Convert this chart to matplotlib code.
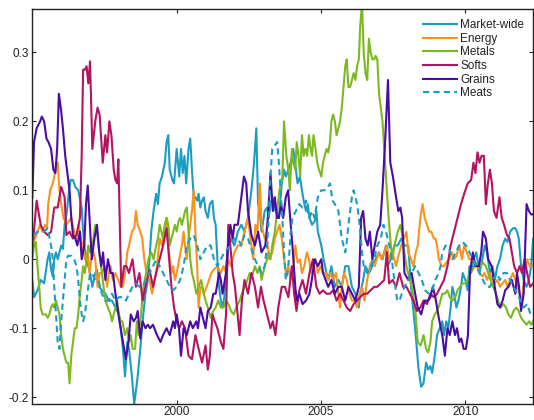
import matplotlib
matplotlib.use("Agg")
import matplotlib.pyplot as plt

plt.rcParams['font.family'] = ['Liberation Sans', 'DejaVu Sans']

# ---------------- data (decimal years, correlation values) ----------------
mkt_t = [1995.00,1995.06,1995.18,1995.29,1995.41,1995.53,1995.59,1995.65,1995.71,1995.76,1995.82,1995.88,1995.94,1996.00,1996.06,1996.12,1996.20,1996.27,1996.33,1996.41,1996.49,1996.59,1996.71,1996.76,1996.85,1996.94,1997.00,1997.08,1997.18,1997.24,1997.32,1997.41,1997.53,1997.65,1997.76,1997.88,1998.00,1998.06,1998.14,1998.21,1998.29,1998.35,1998.45,1998.53,1998.59,1998.65,1998.74,1998.82,1998.92,1999.00,1999.06,1999.12,1999.20,1999.29,1999.35,1999.41,1999.49,1999.59,1999.65,1999.71,1999.76,1999.85,1999.91,2000.00,2000.09,2000.15,2000.21,2000.27,2000.33,2000.41,2000.47,2000.53,2000.59,2000.65,2000.71,2000.76,2000.82,2000.88,2000.94,2001.00,2001.08,2001.15,2001.24,2001.29,2001.35,2001.41,2001.47,2001.53,2001.59,2001.65,2001.71,2001.76,2001.88,2002.00,2002.12,2002.24,2002.35,2002.47,2002.59,2002.68,2002.76,2002.82,2002.88,2002.94,2003.05,2003.13,2003.19,2003.25,2003.31,2003.42,2003.54,2003.64,2003.72,2003.78,2003.87,2003.95,2004.04,2004.13,2004.19,2004.27,2004.34,2004.40,2004.48,2004.54,2004.60,2004.69,2004.78,2004.84,2004.89,2005.01,2005.09,2005.19,2005.25,2005.36,2005.48,2005.60,2005.72,2005.84,2005.95,2006.07,2006.19,2006.31,2006.36,2006.46,2006.54,2006.66,2006.78,2006.89,2007.01,2007.13,2007.25,2007.31,2007.42,2007.54,2007.66,2007.78,2007.89,2008.02,2008.14,2008.26,2008.38,2008.47,2008.55,2008.64,2008.71,2008.79,2008.85,2008.94,2009.02,2009.11,2009.20,2009.26,2009.34,2009.41,2009.49,2009.55,2009.61,2009.69,2009.76,2009.85,2009.91,2010.00,2010.08,2010.14,2010.20,2010.28,2010.38,2010.49,2010.59,2010.67,2010.75,2010.85,2010.94,2011.02,2011.11,2011.20,2011.29,2011.38,2011.46,2011.55,2011.65,2011.73,2011.79,2011.85,2011.93,2012.02,2012.12,2012.20,2012.28,2012.35]
mkt_v = [-.03,-.055,-.045,-.03,-.035,.0,.01,-.015,-.025,.0,.01,.0,.01,.02,.015,.05,.07,.1,.115,.115,.105,.1,.075,.04,.0,-.01,-.02,-.04,-.02,-.015,-.04,-.045,-.05,-.06,-.06,-.07,-.08,-.1,-.13,-.17,-.12,-.13,-.17,-.21,-.19,-.17,-.13,-.09,-.05,-.03,.0,.04,.07,.095,.08,.11,.12,.14,.17,.18,.13,.115,.11,.16,.12,.16,.125,.15,.11,.16,.175,.13,.09,.09,.085,.095,.075,.085,.09,.07,.06,.08,.085,.06,.05,.0,-.04,-.06,-.07,-.055,-.02,.01,.03,.02,.04,.05,.04,.06,.1,.14,.19,.08,.07,.04,.07,.075,.06,.08,.09,.07,.06,.11,.13,.12,.13,.14,.16,.13,.11,.12,.1,.085,.07,.08,.06,.05,.055,.07,.04,.02,.0,-.02,-.03,-.01,-.04,-.03,-.04,-.01,-.01,-.04,-.05,-.07,-.05,-.03,-.01,-.02,-.01,.0,.01,.0,.02,-.01,.0,.02,.02,.03,.02,.02,-.05,-.1,-.16,-.185,-.18,-.15,-.16,-.155,-.165,-.14,-.11,-.1,-.09,-.11,-.09,-.1,-.07,-.04,-.05,-.07,-.06,-.04,-.02,-.03,-.045,-.01,-.02,.0,.01,-.02,.0,.02,.01,-.02,-.01,-.03,-.01,.0,.02,.03,.025,.04,.045,.045,.04,.03,-.01,-.03,-.04,-.03,-.01,.03]

nrg_t = [1995.00,1995.09,1995.18,1995.27,1995.35,1995.44,1995.51,1995.55,1995.62,1995.71,1995.76,1995.82,1995.88,1995.94,1996.00,1996.08,1996.18,1996.26,1996.35,1996.45,1996.53,1996.61,1996.68,1996.74,1996.82,1996.92,1996.98,1997.04,1997.12,1997.18,1997.26,1997.33,1997.41,1997.51,1997.59,1997.65,1997.71,1997.79,1997.88,1997.98,1998.06,1998.14,1998.21,1998.29,1998.35,1998.45,1998.53,1998.59,1998.65,1998.74,1998.81,1998.88,1998.96,1999.06,1999.15,1999.24,1999.32,1999.41,1999.49,1999.55,1999.65,1999.71,1999.76,1999.82,1999.88,1999.94,2000.00,2000.09,2000.18,2000.24,2000.29,2000.35,2000.41,2000.47,2000.53,2000.59,2000.65,2000.71,2000.76,2000.82,2000.88,2000.94,2001.04,2001.12,2001.20,2001.29,2001.41,2001.53,2001.62,2001.71,2001.79,2001.88,2002.00,2002.12,2002.24,2002.35,2002.47,2002.56,2002.65,2002.73,2002.80,2002.88,2002.94,2003.05,2003.13,2003.21,2003.31,2003.40,2003.48,2003.56,2003.64,2003.72,2003.78,2003.87,2003.95,2004.04,2004.11,2004.19,2004.27,2004.34,2004.42,2004.51,2004.58,2004.66,2004.72,2004.81,2004.89,2004.98,2005.07,2005.16,2005.25,2005.33,2005.42,2005.52,2005.60,2005.66,2005.72,2005.80,2005.89,2005.99,2006.07,2006.15,2006.25,2006.34,2006.42,2006.51,2006.60,2006.69,2006.78,2006.86,2006.93,2007.01,2007.09,2007.19,2007.28,2007.36,2007.45,2007.54,2007.60,2007.68,2007.78,2007.87,2007.96,2008.02,2008.12,2008.20,2008.28,2008.35,2008.44,2008.52,2008.59,2008.67,2008.75,2008.82,2008.91,2008.96,2009.02,2009.08,2009.18,2009.26,2009.34,2009.44,2009.53,2009.61,2009.69,2009.79,2009.88,2009.96,2010.05,2010.14,2010.24,2010.32,2010.40,2010.49,2010.59,2010.67,2010.75,2010.85,2010.94,2011.02,2011.11,2011.20,2011.29,2011.38,2011.46,2011.55,2011.65,2011.73,2011.81,2011.88,2011.96,2012.05,2012.14,2012.24,2012.35]
nrg_v = [.02,.03,.04,.05,.04,.05,.045,.08,.1,.11,.12,.135,.14,.1,.08,.06,.05,.055,.06,.04,.03,.05,.03,.02,.0,.01,-.02,.0,.01,.0,-.04,-.02,-.02,-.01,-.04,-.02,-.01,-.03,-.02,-.03,-.04,-.04,-.02,.01,.02,.04,.045,.07,.05,.04,.03,.0,-.02,-.03,-.05,-.03,-.01,.03,.02,.04,.06,.02,.0,-.02,-.01,-.03,-.02,.0,.02,.04,.02,.0,.03,.05,.07,.1,.04,-.01,-.07,-.04,-.04,-.05,-.04,-.03,-.02,-.015,-.01,-.02,-.01,-.02,.0,-.01,.01,.02,.02,.04,.06,.03,.0,.05,.04,.11,.05,.03,.03,.0,.01,.03,.04,.05,.03,.0,-.02,-.01,-.03,-.01,.02,-.005,.0,-.02,-.01,.01,.0,-.02,-.01,.0,-.02,-.01,-.02,-.02,-.03,-.02,-.03,-.02,-.05,-.07,-.04,-.02,-.03,-.05,-.06,-.06,-.07,-.05,-.04,-.06,-.03,-.01,.0,-.01,.0,.01,.0,.01,.02,.0,.01,.0,-.01,.005,.02,.03,.04,.01,.0,-.01,.01,.02,.06,.08,.06,.05,.04,.04,.03,.03,.02,.0,-.01,-.01,-.005,.0,.01,.0,.005,.02,.0,.02,.01,.0,.0,-.01,-.01,-.02,-.025,-.02,-.03,-.02,-.03,-.035,-.03,-.04,-.035,-.03,-.04,-.03,-.02,-.03,-.04,-.05,-.06,-.02,.0,-.01,-.01]

met_t = [1995.00,1995.06,1995.12,1995.18,1995.24,1995.29,1995.35,1995.41,1995.47,1995.53,1995.59,1995.65,1995.71,1995.76,1995.82,1995.88,1995.94,1996.00,1996.06,1996.12,1996.18,1996.24,1996.29,1996.35,1996.41,1996.47,1996.53,1996.59,1996.65,1996.71,1996.76,1996.82,1996.88,1996.94,1997.00,1997.06,1997.12,1997.18,1997.24,1997.29,1997.35,1997.41,1997.47,1997.53,1997.62,1997.71,1997.76,1997.82,1997.88,1997.94,1998.00,1998.06,1998.12,1998.21,1998.29,1998.35,1998.41,1998.47,1998.56,1998.62,1998.68,1998.74,1998.81,1998.85,1998.94,1999.02,1999.12,1999.20,1999.29,1999.35,1999.41,1999.47,1999.53,1999.59,1999.65,1999.71,1999.76,1999.82,1999.88,1999.94,2000.00,2000.06,2000.12,2000.18,2000.24,2000.29,2000.35,2000.41,2000.47,2000.53,2000.59,2000.68,2000.76,2000.85,2000.94,2001.00,2001.08,2001.18,2001.27,2001.35,2001.44,2001.53,2001.62,2001.71,2001.79,2001.88,2001.98,2002.06,2002.12,2002.18,2002.26,2002.35,2002.45,2002.53,2002.61,2002.71,2002.80,2002.88,2002.94,2003.05,2003.13,2003.19,2003.25,2003.31,2003.40,2003.48,2003.56,2003.66,2003.72,2003.80,2003.87,2003.92,2003.99,2004.04,2004.11,2004.16,2004.22,2004.28,2004.34,2004.40,2004.46,2004.52,2004.58,2004.64,2004.69,2004.74,2004.81,2004.87,2004.93,2005.01,2005.07,2005.13,2005.19,2005.25,2005.31,2005.36,2005.42,2005.48,2005.54,2005.60,2005.66,2005.72,2005.78,2005.84,2005.89,2005.95,2006.01,2006.07,2006.13,2006.19,2006.25,2006.31,2006.36,2006.42,2006.48,2006.54,2006.60,2006.66,2006.72,2006.78,2006.84,2006.89,2006.95,2007.01,2007.07,2007.13,2007.19,2007.25,2007.31,2007.36,2007.42,2007.48,2007.54,2007.60,2007.66,2007.75,2007.84,2007.89,2007.96,2008.02,2008.14,2008.26,2008.35,2008.44,2008.49,2008.55,2008.64,2008.71,2008.79,2008.85,2008.94,2009.02,2009.11,2009.20,2009.29,2009.38,2009.46,2009.55,2009.65,2009.73,2009.81,2009.91,2010.00,2010.08,2010.16,2010.26,2010.35,2010.44,2010.52,2010.61,2010.71,2010.79,2010.87,2010.96,2011.06,2011.14,2011.22,2011.32,2011.41,2011.49,2011.58,2011.67,2011.76,2011.85,2011.93,2012.02,2012.12,2012.21,2012.28,2012.35]
met_v = [.0,.02,.025,-.01,-.04,-.07,-.08,-.08,-.08,-.085,-.08,-.07,-.065,-.07,-.06,-.07,-.08,-.11,-.13,-.14,-.15,-.15,-.18,-.14,-.12,-.1,-.1,-.08,-.05,-.03,-.01,-.02,.0,.02,.01,.02,.03,.05,.04,.02,.0,-.02,-.04,-.06,-.07,-.08,-.09,-.08,-.07,-.06,-.08,-.09,-.09,-.11,-.1,-.12,-.11,-.13,-.13,-.09,-.11,-.09,-.06,-.04,-.02,.0,.01,.0,.02,.03,.05,.04,.03,.05,.06,.05,.02,.03,.04,.05,.04,.055,.06,.05,.06,.07,.075,.04,.0,-.02,-.03,-.05,-.04,-.03,-.05,-.06,-.07,-.085,-.075,-.07,-.06,-.07,-.07,-.06,-.065,-.075,-.08,-.07,-.065,-.06,-.05,-.04,-.03,-.02,-.025,-.01,-.02,-.01,-.03,-.01,.0,.01,.0,.02,.04,.07,.1,.12,.2,.15,.13,.1,.16,.14,.13,.17,.15,.12,.18,.15,.16,.15,.18,.16,.15,.18,.16,.14,.13,.12,.14,.15,.16,.155,.17,.2,.21,.2,.18,.19,.2,.22,.25,.28,.29,.25,.25,.26,.27,.26,.28,.29,.34,.37,.3,.27,.26,.32,.3,.29,.29,.295,.29,.24,.22,.2,.16,.12,.08,.05,.02,.0,.02,.03,.04,.05,.03,.01,-.01,-.02,-.04,-.07,-.12,-.125,-.12,-.11,-.13,-.135,-.12,-.09,-.08,-.075,-.065,-.05,-.05,-.045,-.055,-.06,-.055,-.045,-.04,-.035,-.035,-.03,-.02,-.015,-.005,-.01,-.01,-.005,-.01,-.02,-.03,-.04,-.05,-.06,-.07,-.065,-.07,-.08,-.085,-.075,-.07,-.075,-.085,-.09,-.095,-.09,-.095,-.09]

sft_t = [1995.00,1995.15,1995.29,1995.41,1995.53,1995.65,1995.76,1995.88,1996.00,1996.12,1996.18,1996.29,1996.41,1996.53,1996.65,1996.71,1996.76,1996.82,1996.88,1996.94,1997.00,1997.08,1997.18,1997.26,1997.33,1997.44,1997.53,1997.59,1997.67,1997.74,1997.82,1997.88,1997.94,1997.98,1998.04,1998.08,1998.18,1998.26,1998.35,1998.47,1998.59,1998.71,1998.82,1998.94,1999.06,1999.18,1999.29,1999.41,1999.53,1999.65,1999.74,1999.82,1999.91,2000.00,2000.09,2000.18,2000.29,2000.41,2000.53,2000.65,2000.76,2000.88,2001.00,2001.08,2001.15,2001.24,2001.32,2001.41,2001.53,2001.62,2001.71,2001.79,2001.86,2001.94,2002.02,2002.09,2002.18,2002.26,2002.35,2002.47,2002.59,2002.71,2002.82,2002.92,2003.01,2003.13,2003.25,2003.33,2003.42,2003.52,2003.64,2003.75,2003.87,2003.99,2004.07,2004.15,2004.25,2004.36,2004.48,2004.60,2004.72,2004.84,2004.95,2005.07,2005.19,2005.31,2005.42,2005.54,2005.66,2005.78,2005.89,2006.01,2006.13,2006.25,2006.36,2006.48,2006.60,2006.72,2006.84,2006.95,2007.07,2007.19,2007.28,2007.36,2007.48,2007.60,2007.72,2007.84,2007.96,2008.08,2008.20,2008.32,2008.44,2008.55,2008.67,2008.79,2008.91,2009.02,2009.14,2009.26,2009.38,2009.49,2009.61,2009.73,2009.85,2009.96,2010.08,2010.20,2010.28,2010.35,2010.42,2010.49,2010.56,2010.64,2010.71,2010.78,2010.85,2010.92,2010.99,2011.08,2011.18,2011.26,2011.34,2011.44,2011.53,2011.61,2011.69,2011.79,2011.88,2011.96,2012.05,2012.14,2012.24,2012.35]
sft_v = [.014,.085,.05,.04,.035,.04,.075,.075,.105,.09,.035,.04,.03,.035,.06,.15,.275,.275,.28,.255,.287,.16,.2,.22,.21,.14,.18,.155,.2,.18,.13,.115,.11,.145,.03,-.04,-.01,-.01,-.02,.0,-.04,-.02,-.06,-.035,-.015,-.04,-.02,.0,.02,.045,.0,-.04,-.07,-.09,-.1,-.09,-.1,-.14,-.145,-.11,-.13,-.15,-.125,-.16,-.14,-.08,-.09,-.1,-.12,-.13,-.08,.05,.02,-.02,-.04,-.07,-.11,-.06,-.03,-.05,-.02,-.04,-.07,-.04,-.06,-.08,-.1,-.09,-.11,-.07,-.04,-.04,-.055,-.01,-.05,-.075,-.045,-.03,-.05,-.02,.0,-.04,-.05,-.045,-.05,-.05,-.045,-.06,-.05,-.06,-.07,-.075,-.065,-.06,-.055,-.05,-.05,-.045,-.04,-.04,-.035,-.03,.01,-.035,-.03,-.04,-.02,-.04,-.04,-.05,-.06,-.075,-.07,-.06,-.065,-.05,-.055,-.05,-.04,-.03,-.01,.02,.04,.06,.08,.095,.11,.115,.14,.125,.155,.14,.15,.15,.08,.11,.13,.11,.07,.06,.09,.06,.05,.035,.03,.01,-.01,-.02,-.01,-.02,.0,-.02,-.04,-.035]

grn_t = [1995.00,1995.06,1995.15,1995.27,1995.33,1995.41,1995.49,1995.56,1995.65,1995.73,1995.80,1995.86,1995.92,1996.00,1996.06,1996.14,1996.20,1996.29,1996.35,1996.41,1996.49,1996.56,1996.65,1996.71,1996.80,1996.86,1996.92,1996.98,1997.06,1997.15,1997.24,1997.32,1997.39,1997.45,1997.53,1997.62,1997.71,1997.79,1997.88,1998.02,1998.14,1998.24,1998.33,1998.41,1998.51,1998.59,1998.65,1998.74,1998.82,1998.92,1999.00,1999.08,1999.18,1999.32,1999.44,1999.53,1999.65,1999.76,1999.88,1999.94,2000.00,2000.08,2000.15,2000.24,2000.35,2000.47,2000.56,2000.68,2000.74,2000.82,2000.91,2001.00,2001.08,2001.18,2001.27,2001.35,2001.47,2001.53,2001.59,2001.71,2001.76,2001.86,2001.94,2002.00,2002.12,2002.24,2002.33,2002.41,2002.47,2002.59,2002.71,2002.82,2002.94,2003.07,2003.16,2003.25,2003.33,2003.40,2003.48,2003.54,2003.62,2003.69,2003.78,2003.86,2003.95,2004.01,2004.11,2004.16,2004.25,2004.36,2004.48,2004.60,2004.68,2004.78,2004.89,2005.01,2005.07,2005.16,2005.25,2005.36,2005.48,2005.60,2005.72,2005.84,2005.95,2006.07,2006.19,2006.31,2006.39,2006.46,2006.54,2006.62,2006.69,2006.78,2006.86,2006.95,2007.05,2007.13,2007.22,2007.32,2007.40,2007.49,2007.60,2007.68,2007.75,2007.81,2007.89,2008.02,2008.14,2008.24,2008.35,2008.47,2008.59,2008.71,2008.79,2008.87,2008.96,2009.08,2009.20,2009.29,2009.38,2009.46,2009.55,2009.64,2009.71,2009.79,2009.86,2009.94,2010.02,2010.09,2010.16,2010.26,2010.35,2010.47,2010.55,2010.61,2010.71,2010.79,2010.91,2011.02,2011.11,2011.20,2011.29,2011.38,2011.49,2011.61,2011.73,2011.79,2011.86,2011.93,2012.02,2012.12,2012.20,2012.28,2012.35]
grn_v = [.09,.17,.19,.2,.207,.2,.175,.17,.16,.13,.125,.16,.24,.215,.19,.15,.13,.1,.06,.035,.03,.02,.04,.0,.02,.08,.107,.06,.0,.03,.05,.01,-.01,.01,-.03,.0,-.02,-.02,-.05,-.09,-.12,-.145,-.12,-.08,-.09,-.085,-.075,-.115,-.09,-.1,-.095,-.1,-.095,-.11,-.12,-.11,-.1,-.11,-.09,-.1,-.08,-.1,-.14,-.1,-.11,-.09,-.1,-.09,-.1,-.07,-.085,-.1,-.075,-.07,-.05,-.05,-.02,-.03,-.05,-.02,.01,.05,.03,.05,.05,.09,.12,.11,.07,.035,.02,.04,.01,.02,.06,.125,.07,.09,.06,.06,.08,.06,.09,.1,.05,.02,-.04,-.06,-.05,-.065,-.06,-.05,-.03,.0,-.01,.0,-.02,-.03,-.04,-.03,-.05,-.04,-.04,-.06,-.04,-.05,-.06,-.04,.06,.07,.03,.02,.04,.0,.02,.04,.05,.1,.17,.26,.14,.12,.09,.07,.075,.06,-.02,-.03,-.02,-.045,-.07,-.08,-.06,-.06,-.055,-.04,-.055,-.085,-.11,-.14,-.1,-.11,-.09,-.11,-.1,-.12,-.115,-.13,-.13,-.11,-.02,.01,-.01,-.01,.01,.04,.03,.0,-.01,-.04,-.065,-.07,-.06,-.045,-.04,-.03,-.05,-.02,-.04,-.075,-.05,.08,.07,.065,.065]

mea_t = [1995.00,1995.06,1995.18,1995.29,1995.41,1995.53,1995.65,1995.71,1995.76,1995.82,1995.88,1995.94,1996.00,1996.06,1996.12,1996.18,1996.24,1996.35,1996.45,1996.53,1996.59,1996.65,1996.71,1996.76,1996.82,1996.88,1996.94,1997.00,1997.06,1997.18,1997.29,1997.41,1997.53,1997.65,1997.76,1997.88,1998.00,1998.12,1998.24,1998.35,1998.47,1998.59,1998.71,1998.82,1998.94,1999.06,1999.18,1999.29,1999.41,1999.53,1999.65,1999.76,1999.88,2000.00,2000.12,2000.24,2000.35,2000.47,2000.59,2000.71,2000.82,2000.94,2001.06,2001.18,2001.29,2001.41,2001.53,2001.65,2001.76,2001.88,2002.00,2002.12,2002.24,2002.35,2002.47,2002.59,2002.71,2002.82,2002.94,2003.05,2003.13,2003.19,2003.25,2003.31,2003.40,2003.48,2003.54,2003.60,2003.66,2003.72,2003.78,2003.84,2003.89,2003.95,2004.01,2004.13,2004.25,2004.36,2004.48,2004.54,2004.60,2004.69,2004.78,2004.89,2005.01,2005.13,2005.25,2005.31,2005.40,2005.48,2005.60,2005.66,2005.72,2005.78,2005.84,2005.89,2005.95,2006.01,2006.07,2006.13,2006.19,2006.25,2006.31,2006.36,2006.42,2006.48,2006.60,2006.72,2006.84,2006.95,2007.07,2007.16,2007.25,2007.31,2007.42,2007.54,2007.64,2007.72,2007.80,2007.89,2008.02,2008.14,2008.26,2008.38,2008.49,2008.61,2008.73,2008.85,2008.96,2009.08,2009.14,2009.20,2009.32,2009.44,2009.55,2009.67,2009.79,2009.91,2010.02,2010.14,2010.26,2010.38,2010.49,2010.61,2010.73,2010.85,2010.96,2011.08,2011.20,2011.32,2011.44,2011.55,2011.67,2011.79,2011.91,2012.02,2012.14,2012.26,2012.35]
mea_v = [.02,.035,.04,.04,.04,.045,.02,.0,-.04,-.08,-.12,-.13,-.09,-.06,-.03,.0,.005,.005,.0,-.01,-.03,-.06,-.08,-.09,-.08,-.06,-.04,-.02,-.02,-.03,-.03,-.05,-.06,-.06,-.05,-.06,-.055,-.055,-.06,-.05,-.04,-.035,-.04,-.04,-.03,-.02,-.01,.0,-.01,-.02,-.03,-.04,-.045,-.04,-.03,-.01,.02,.03,.035,.02,.0,.01,.02,.02,.0,-.01,.0,.01,.015,.02,.03,.03,.02,.035,.03,.015,.0,-.01,-.02,-.01,.02,.06,.12,.16,.165,.17,.14,.1,.06,.01,-.03,-.02,.0,.04,.06,.07,.08,.075,.085,.07,.06,.07,.06,.09,.1,.1,.105,.11,.085,.08,.07,.05,.03,.02,.01,.025,.05,.07,.09,.1,.09,.08,.06,.04,.01,-.01,-.02,-.01,.0,.02,.03,.05,.04,.03,.01,-.03,-.06,-.06,-.05,-.04,-.03,-.02,-.01,-.02,-.03,-.045,-.05,-.045,-.03,-.02,-.01,.01,.02,.015,.0,.01,.02,.025,.02,.01,.0,-.01,-.02,-.03,-.04,-.04,-.03,-.02,-.03,-.02,-.02,-.03,-.04,-.05,-.06,-.07,-.065,-.08,-.08]

labels = ['Market-wide', 'Energy', 'Metals', 'Softs', 'Grains', 'Meats']
xticks = [2000, 2005, 2010]
yticks = [-0.2, -0.1, 0, 0.1, 0.2, 0.3]
ytick_labels = ['-0.2', '-0.1', '0', '0.1', '0.2', '0.3']

# ---------------- styling ----------------
c_teal = '#1b9dc1'
c_orange = '#f7931e'
c_green = '#7cb920'
c_softs = '#b3135f'
c_grains = '#4a0ca2'

fig = plt.figure(figsize=(5.34, 4.20), dpi=100)
ax = fig.add_axes([0.0605, 0.038, 0.938, 0.9406])

lw = 1.5
series = [
    (mkt_t, mkt_v, c_teal, '-'),
    (nrg_t, nrg_v, c_orange, '-'),
    (met_t, met_v, c_green, '-'),
    (sft_t, sft_v, c_softs, '-'),
    (grn_t, grn_v, c_grains, '-'),
    (mea_t, mea_v, c_teal, (0, (3, 2))),
]
for (t, v, c, ls), lab in zip(series, labels):
    ax.plot(t, v, color=c, lw=lw, ls=ls, label=lab, solid_joinstyle='round')

ax.set_xlim(1995.0, 2012.35)
ax.set_ylim(-0.21, 0.363)
ax.set_xticks(xticks)
ax.set_xticklabels([str(x) for x in xticks])
ax.set_yticks(yticks)
ax.set_yticklabels(ytick_labels)
ax.tick_params(direction='in', length=3, width=0.8, top=True, right=True,
               labelsize=8.5, colors='#222222', pad=2.5)
ax.tick_params(axis='x', pad=1.5)
for s in ax.spines.values():
    s.set_linewidth(1.0)
    s.set_color('#222222')

leg = ax.legend(loc='upper right', bbox_to_anchor=(1.002, 1.0), frameon=False,
                fontsize=8.5, handlelength=2.9, handletextpad=0.25,
                labelspacing=0.14, borderaxespad=0.4, borderpad=0.45)
for txt in leg.get_texts():
    txt.set_color('#222222')

fig.savefig('out.png', dpi=100)
